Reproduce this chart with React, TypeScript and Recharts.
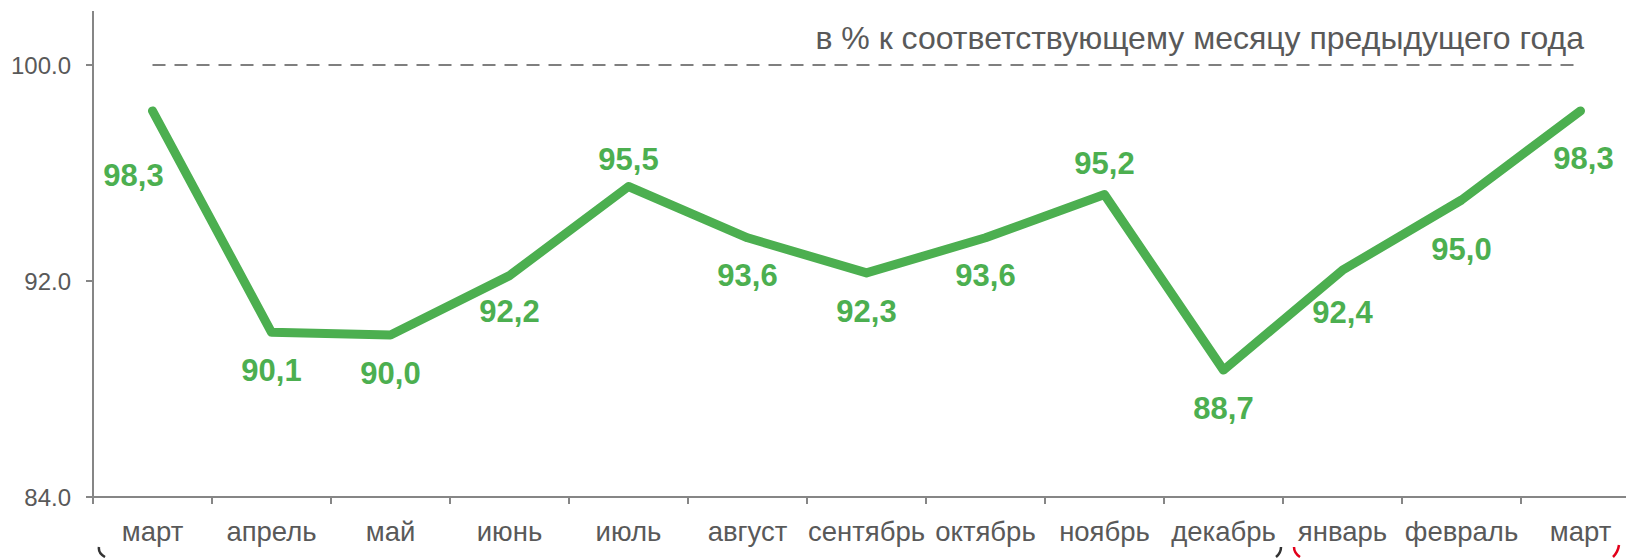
import React from 'react'
import { LineChart, Line, XAxis, YAxis, ReferenceLine, LabelList } from 'recharts'

// месяцы: март прошлого года .. март текущего
const months = ['март', 'апрель', 'май', 'июнь', 'июль', 'август', 'сентябрь', 'октябрь', 'ноябрь', 'декабрь', 'январь', 'февраль', 'март']
const values = [98.3, 90.1, 90.0, 92.2, 95.5, 93.6, 92.3, 93.6, 95.2, 88.7, 92.4, 95.0, 98.3]
const yTicks = [84, 92, 100]
const baseline = 100
const title = 'в % к соответствующему месяцу предыдущего года'

// label placement (offsets from point, px)
const labelDx = [-19, 0, 0, 0, 0, 0, 0, 0, 0, 0, 0, 0, 3]
const labelDy = [65, 38, 38, 36, -27, 38, 39, 38, -31, 38, 42, 49, 48]

const W = 1640
const H = 558
const M = { top: 11, right: 0, left: 0, bottom: 21 }
const Y_W = 93
const X_H = 40
const AXIS_Y = H - M.bottom - X_H
const BAND = (W - Y_W - M.left - M.right) / months.length

const GREEN = '#4CAF50'
const GREY = '#595959'
const AXIS = '#868686'
const FONT = '"Liberation Sans", Arial, sans-serif'

const data = values.map((v, i) => ({ key: String(i), value: v }))

const XTick = (props: any) => {
  const { x, payload } = props
  const i = Number(payload.value)
  const bx = x - BAND / 2
  return (
    <g>
      <line x1={bx} x2={bx} y1={AXIS_Y} y2={AXIS_Y + 7} stroke={AXIS} strokeWidth={2} />
      <text x={x} y={AXIS_Y + 44} textAnchor="middle" fill={GREY} fontSize={27.5} fontFamily={FONT}>
        {months[i]}
      </text>
    </g>
  )
}

const ValueLabel = (props: any) => {
  const { x, y, value, index } = props
  return (
    <text
      x={x + labelDx[index]}
      y={y + labelDy[index]}
      textAnchor="middle"
      dominantBaseline="central"
      fill={GREEN}
      fontSize={31}
      fontWeight="bold"
      fontFamily={FONT}
    >
      {Number(value).toFixed(1).replace('.', ',')}
    </text>
  )
}

export default function App() {
  return (
    <div style={{ position: 'fixed', left: 0, top: 0, width: 1626, height: 558, overflow: 'hidden', background: '#fff' }}>
      <LineChart width={W} height={H} data={data} margin={M}>
        <XAxis
          dataKey="key"
          height={X_H}
          padding={{ left: BAND / 2, right: BAND / 2 }}
          tickLine={false}
          axisLine={{ stroke: AXIS, strokeWidth: 2 }}
          tick={<XTick />}
          interval={0}
        />
        <YAxis
          width={Y_W}
          domain={[84, 102]}
          ticks={yTicks}
          allowDataOverflow
          tickSize={7}
          tickMargin={15}
          tickLine={{ stroke: AXIS, strokeWidth: 2 }}
          axisLine={{ stroke: AXIS, strokeWidth: 2 }}
          tickFormatter={(v) => Number(v).toFixed(1)}
          tick={{ fill: GREY, fontSize: 24, fontFamily: FONT }}
        />
        <ReferenceLine
          segment={[{ x: data[0].key, y: baseline }, { x: data[data.length - 1].key, y: baseline }]}
          stroke="#7f7f7f"
          strokeWidth={2}
          strokeDasharray="13 9"
        />
        <Line
          type="linear"
          dataKey="value"
          stroke={GREEN}
          strokeWidth={9}
          strokeLinecap="round"
          strokeLinejoin="round"
          dot={false}
          activeDot={false}
          isAnimationActive={false}
        >
          <LabelList dataKey="value" content={<ValueLabel />} />
        </Line>
      </LineChart>
      <svg width={1626} height={558} style={{ position: 'absolute', left: 0, top: 0, pointerEvents: 'none' }}>
        <text x={1584} y={49} textAnchor="end" fill={GREY} fontSize={32} fontFamily={FONT}>
          {title}
        </text>
        <path d="M99 547 Q98 553 105 557" fill="none" stroke="#333" strokeWidth={2.5} />
        <path d="M1281 547 Q1281 553 1276 557" fill="none" stroke="#333" strokeWidth={2.5} />
        <path d="M1294 547 Q1294 553 1300 557" fill="none" stroke="#e2001a" strokeWidth={2.5} />
        <path d="M1619 545 Q1618 552 1613 557" fill="none" stroke="#e2001a" strokeWidth={2.5} />
      </svg>
    </div>
  )
}
